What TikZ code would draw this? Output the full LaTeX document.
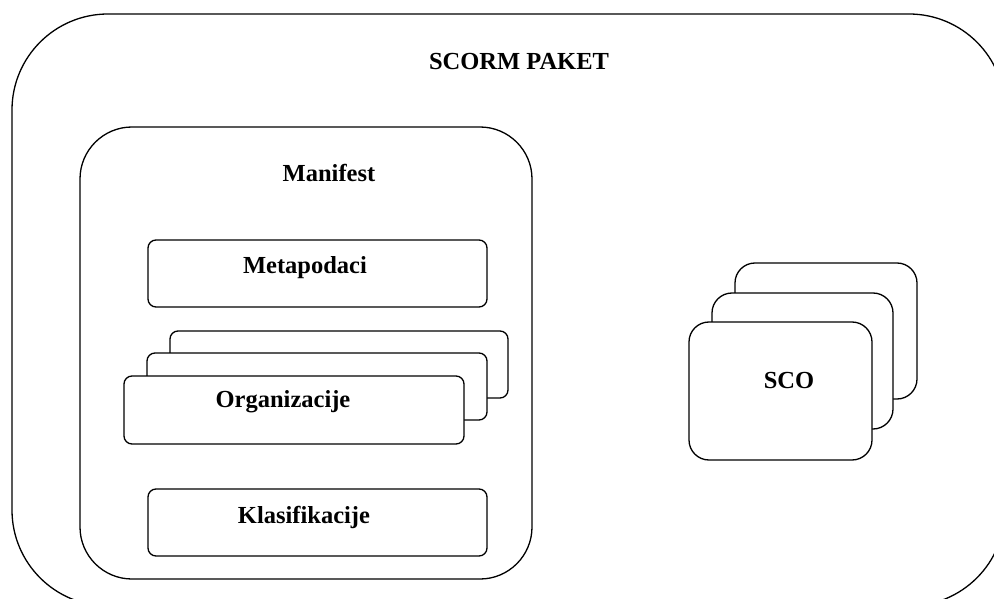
\documentclass[tikz,border=0pt]{standalone}
\usepackage{fontspec}
\setmainfont{Liberation Serif}
\tikzset{
  frame/.style={draw=black, line width=1.3pt, fill=white},
  smallbox/.style={frame, rounded corners=8pt},
  scobox/.style={frame, rounded corners=20pt},
  lbl/.style={anchor=base, inner sep=0pt, font=\fontsize{24.5}{29}\selectfont\bfseries}
}
\begin{document}
\begin{tikzpicture}[x=1pt,y=-1pt]
\useasboundingbox (0,0) rectangle (994,599);
\clip (0,0) rectangle (994,599);
% outer package
\draw[frame, rounded corners=96pt] (12,14) rectangle (1005,606);
\node[lbl] (paket) at (519,70) {SCORM PAKET};
% manifest
\draw[frame, rounded corners=52pt] (80,127) rectangle (532,579);
\node[lbl] (manifest) at (329,182) {Manifest};
% metapodaci
\draw[smallbox] (148,240) rectangle (487,307);
\node[lbl] (meta) at (305,273) {Metapodaci};
% organizacije stack
\draw[smallbox] (170,331) rectangle (508,398);
\draw[smallbox] (147,353) rectangle (487,420);
\draw[smallbox] (124,376) rectangle (464,444);
\node[lbl] (org) at (283,407) {Organizacije};
% klasifikacije
\draw[smallbox] (148,489) rectangle (487,556);
\node[lbl] (klas) at (304,523) {Klasifikacije};
% SCO stack
\draw[scobox] (735,263) rectangle (917,399);
\draw[scobox] (712,293) rectangle (893,429);
\draw[scobox] (689,322) rectangle (872,460);
\node[lbl] (sco) at (789,388) {SCO};
\end{tikzpicture}
\end{document}
